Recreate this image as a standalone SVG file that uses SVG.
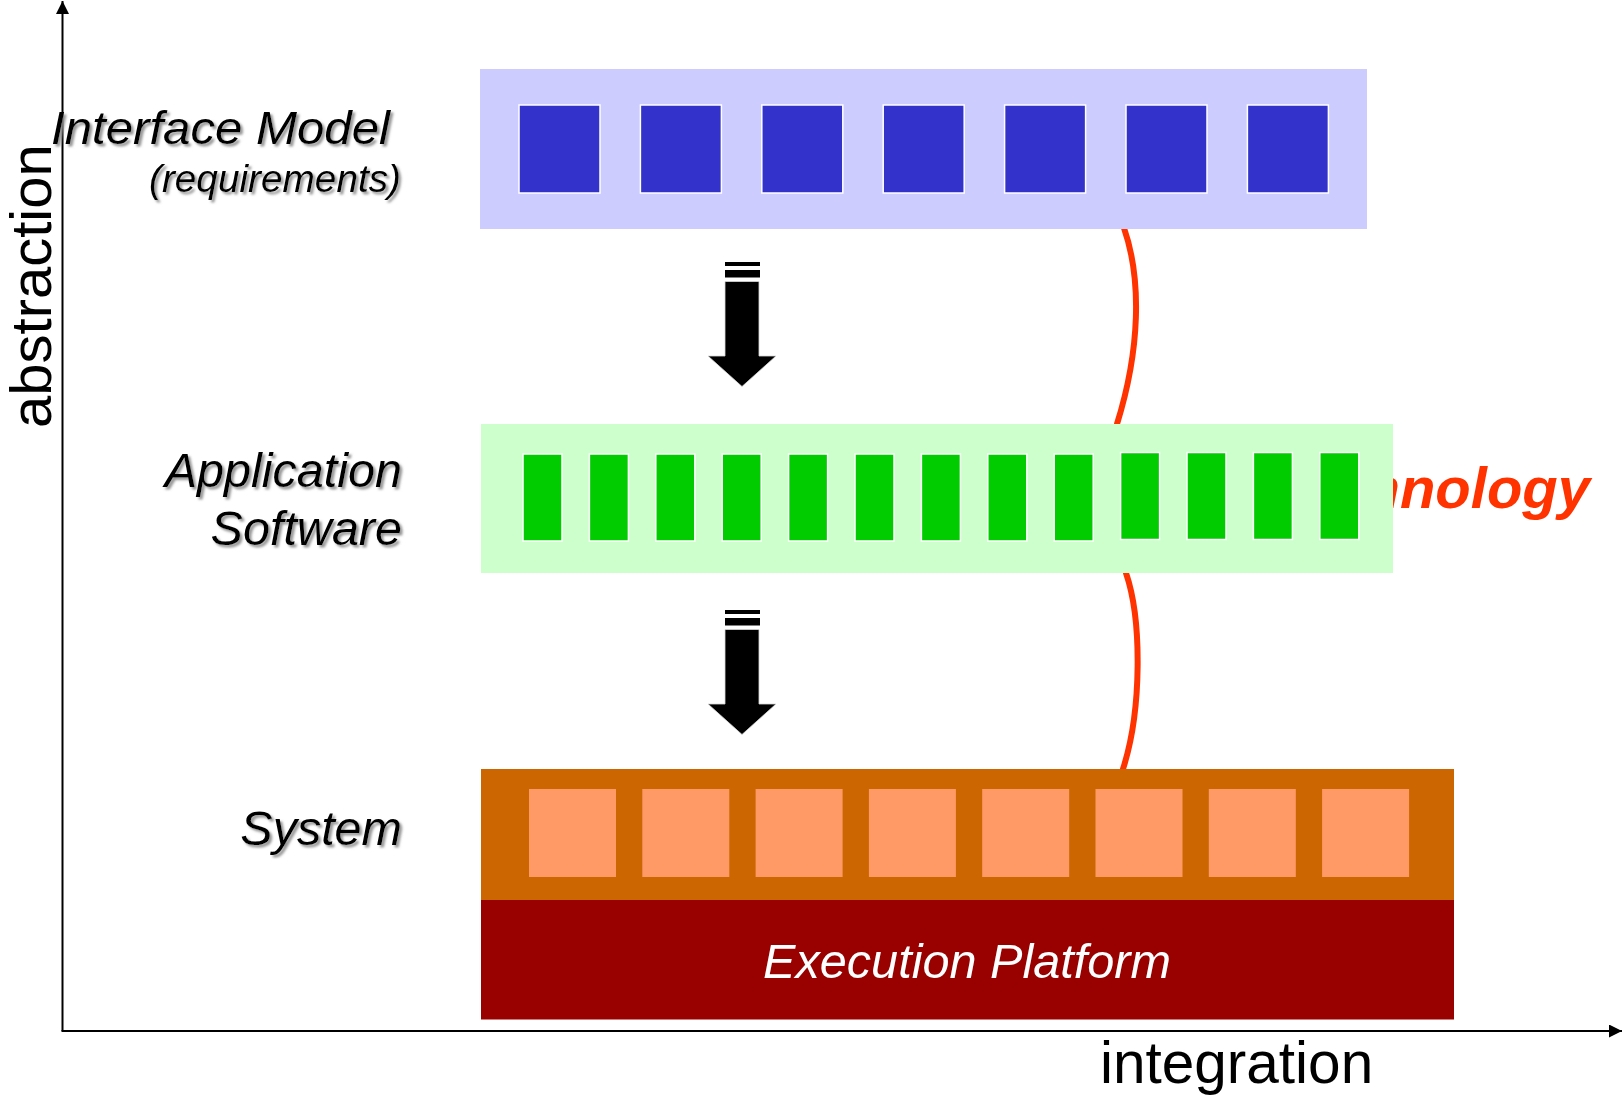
<svg xmlns="http://www.w3.org/2000/svg" width="1623" height="1097" viewBox="0 0 1623 1097">
  <style>
    .lbl { font-family: "Liberation Sans", Arial, sans-serif; font-style: italic; fill: #000; }
    .axis-lbl { font-family: "Liberation Sans", Arial, sans-serif; fill: #000; }
    .blue-sq { fill: #3333CC; stroke: #FFFFFF; stroke-width: 1.5; }
    .green-sq { fill: #00CC00; stroke: #FFFFFF; stroke-width: 1.5; }
    .orange-sq { fill: #FF9966; }
    .axis { stroke: #000; stroke-width: 2; fill: none; }
  </style>
  <defs>
    <filter id="shadow" x="-10%" y="-20%" width="130%" height="150%">
      <feDropShadow dx="2.5" dy="2.5" stdDeviation="0.8" flood-color="#8C8C8C" flood-opacity="0.9"/>
    </filter>
    <marker id="axhead" viewBox="0 0 13 13" refX="13" refY="6.5" markerWidth="13" markerHeight="13" markerUnits="userSpaceOnUse" orient="auto">
      <path d="M0,0 L13,6.5 L0,13 Z" fill="#000"/>
    </marker>
    <g id="blockArrow">
      <rect x="725" y="262" width="35" height="4" fill="#000"/>
      <rect x="725" y="270" width="35" height="7.5" fill="#000"/>
      <path d="M725,281.5 L759,281.5 L759,356 L776,356 L742,386.5 L708,356 L725,356 Z" fill="#000" stroke="#D8D8D8" stroke-width="0.8"/>
    </g>
  </defs>

  <rect width="1623" height="1097" fill="#FFFFFF"/>

  <!-- connectors / axes / curve -->
  <g id="connectors">
    <line class="axis" x1="62.5" y1="1031" x2="62.5" y2="1" marker-end="url(#axhead)"/>
    <line class="axis" x1="61.5" y1="1031" x2="1622" y2="1031" marker-end="url(#axhead)"/>
    <path id="technology-curve" d="M1118,190 C1121,205 1122,215 1124,228 C1142,280 1140,350 1117,424 C1112,470 1120,520 1126,573 C1142,620 1142,710 1123,769 L1120,800" fill="none" stroke="#FF3300" stroke-width="6"/>
    <use href="#blockArrow"/>
    <use href="#blockArrow" transform="translate(0,348)"/>
  </g>

  <text id="technology-label" x="1590" y="508" text-anchor="end" font-family="Liberation Sans, Arial, sans-serif" font-size="58" font-weight="bold" font-style="italic" fill="#FF3300">Technology</text>

  <!-- Interface model layer -->
  <g id="interface-model">
    <rect x="480" y="69" width="887" height="160" fill="#CCCCFF"/>
    <rect class="blue-sq" x="519" y="105" width="81" height="88"/>
    <rect class="blue-sq" x="640.4" y="105" width="81" height="88"/>
    <rect class="blue-sq" x="761.8" y="105" width="81" height="88"/>
    <rect class="blue-sq" x="883.2" y="105" width="81" height="88"/>
    <rect class="blue-sq" x="1004.6" y="105" width="81" height="88"/>
    <rect class="blue-sq" x="1126" y="105" width="81" height="88"/>
    <rect class="blue-sq" x="1247.4" y="105" width="81" height="88"/>
  </g>

  <!-- Application software layer -->
  <g id="application-software">
    <rect x="481" y="424" width="912" height="149" fill="#CCFFCC"/>
    <rect class="green-sq" x="523" y="454" width="39" height="87"/>
    <rect class="green-sq" x="589.4" y="454" width="39" height="87"/>
    <rect class="green-sq" x="655.8" y="454" width="39" height="87"/>
    <rect class="green-sq" x="722.2" y="454" width="39" height="87"/>
    <rect class="green-sq" x="788.6" y="454" width="39" height="87"/>
    <rect class="green-sq" x="855" y="454" width="39" height="87"/>
    <rect class="green-sq" x="921.4" y="454" width="39" height="87"/>
    <rect class="green-sq" x="987.8" y="454" width="39" height="87"/>
    <rect class="green-sq" x="1054.2" y="454" width="39" height="87"/>
    <rect class="green-sq" x="1120.6" y="452.5" width="39" height="87"/>
    <rect class="green-sq" x="1187" y="452.5" width="39" height="87"/>
    <rect class="green-sq" x="1253.4" y="452.5" width="39" height="87"/>
    <rect class="green-sq" x="1319.8" y="452.5" width="39" height="87"/>
  </g>

  <!-- System layer -->
  <g id="system">
    <rect x="481" y="769" width="973" height="131" fill="#CC6600"/>
    <rect class="orange-sq" x="529" y="789" width="87" height="88"/>
    <rect class="orange-sq" x="642.3" y="789" width="87" height="88"/>
    <rect class="orange-sq" x="755.6" y="789" width="87" height="88"/>
    <rect class="orange-sq" x="868.9" y="789" width="87" height="88"/>
    <rect class="orange-sq" x="982.2" y="789" width="87" height="88"/>
    <rect class="orange-sq" x="1095.5" y="789" width="87" height="88"/>
    <rect class="orange-sq" x="1208.8" y="789" width="87" height="88"/>
    <rect class="orange-sq" x="1322.1" y="789" width="87" height="88"/>
  </g>

  <!-- Execution platform -->
  <g id="execution-platform">
    <rect x="481" y="900" width="973" height="119.5" fill="#990000"/>
    <text x="967" y="978" text-anchor="middle" font-family="Liberation Sans, Arial, sans-serif" font-size="48.6" font-style="italic" fill="#FFFFFF">Execution Platform</text>
  </g>

  <!-- Level labels -->
  <g id="labels" filter="url(#shadow)">
    <text class="lbl" x="51" y="144" font-size="45.5" textLength="339" lengthAdjust="spacingAndGlyphs">Interface Model</text>
    <text class="lbl" x="401" y="192" font-size="38.5" text-anchor="end" textLength="252" lengthAdjust="spacingAndGlyphs">(requirements)</text>
    <text class="lbl" x="402" y="486.5" font-size="48.5" text-anchor="end">Application</text>
    <text class="lbl" x="402" y="545" font-size="48.5" text-anchor="end">Software</text>
    <text class="lbl" x="402" y="845" font-size="48.5" text-anchor="end">System</text>
  </g>

  <!-- Axis labels -->
  <g id="axis-labels">
    <text class="axis-lbl" font-size="58" transform="translate(50.5,428) rotate(-90)">abstraction</text>
    <text class="axis-lbl" x="1100" y="1083" font-size="58.5">integration</text>
  </g>
</svg>
